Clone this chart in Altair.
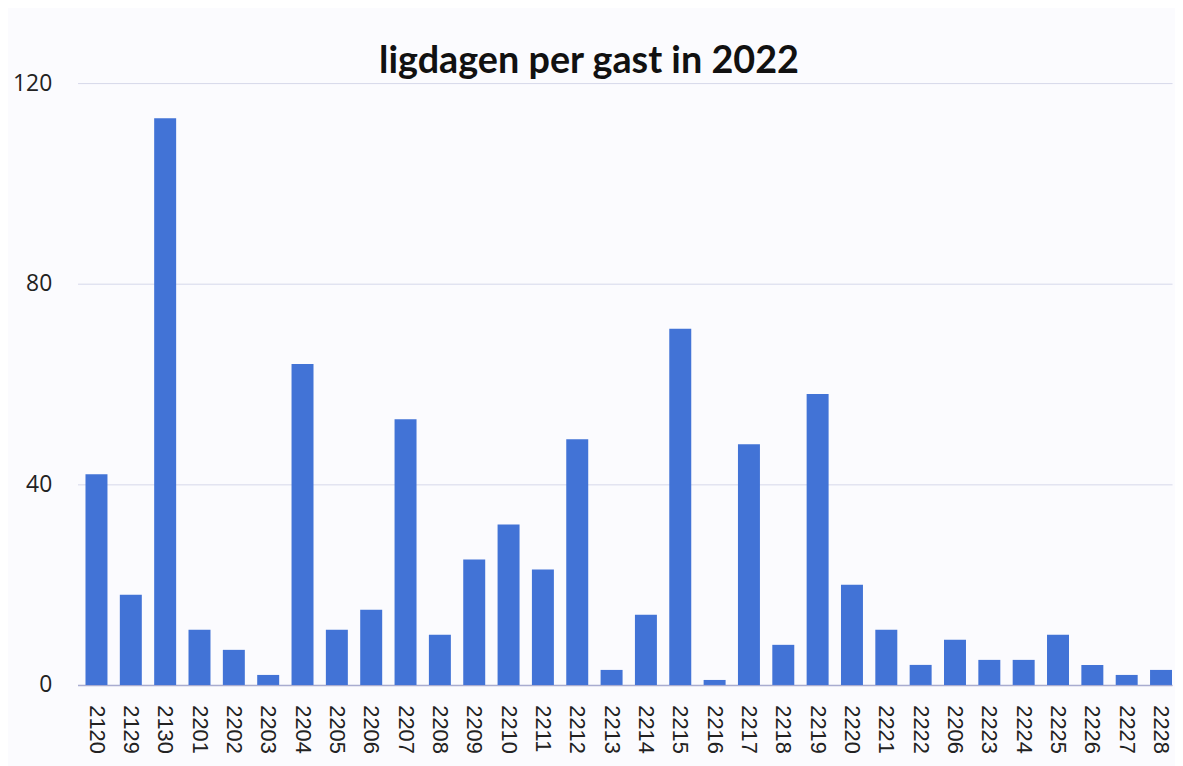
import altair as alt
import pandas as pd

gasten = ["2120", "2129", "2130", "2201", "2202", "2203", "2204", "2205", "2206", "2207",
          "2208", "2209", "2210", "2211", "2212", "2213", "2214", "2215", "2216", "2217",
          "2218", "2219", "2220", "2221", "2222", "2206", "2223", "2224", "2225", "2226",
          "2227", "2228"]
ligdagen = [42, 18, 113, 11, 7, 2, 64, 11, 15, 53,
            10, 25, 32, 23, 49, 3, 14, 71, 1, 48,
            8, 58, 20, 11, 4, 9, 5, 5, 10, 4,
            2, 3]
y_ticks = [0, 40, 80, 120]

df = pd.DataFrame({"idx": list(range(len(gasten))), "gast": gasten, "ligdagen": ligdagen})
label_array = "[" + ",".join("'" + g + "'" for g in gasten) + "]"

chart = alt.Chart(df).mark_bar(color="#4273d6").encode(
    x=alt.X("idx:O",
            scale=alt.Scale(paddingInner=0.36, paddingOuter=0.116, align=1),
            axis=alt.Axis(title=None, labelExpr=label_array + "[datum.value]",
                          labelAngle=90, labelAlign="left", labelBaseline="middle",
                          labelFont="Liberation Sans", labelFontSize=22, labelColor="#222222",
                          labelPadding=20, ticks=False, domainColor="#a9acd0", domainWidth=1.5,
                          grid=False)),
    y=alt.Y("ligdagen:Q",
            scale=alt.Scale(domain=[0, 120], nice=False),
            axis=alt.Axis(title=None, values=y_ticks, ticks=False, domain=False,
                          labelFont="Open Sans", labelFontSize=23, labelColor="#222222",
                          labelPadding=26, gridColor="#d6d8ea", gridWidth=1)),
    tooltip=["gast", "ligdagen"],
).properties(
    width=1102,
    height=606,
    autosize=alt.AutoSizeParams(type="none"),
    padding={"left": 70, "top": 73, "right": 3, "bottom": 80},
    title=alt.TitleParams("ligdagen per gast in 2022", font="Lato", fontSize=38,
                          fontWeight="bold", color="#111111", anchor="middle",
                          dx=-36, dy=48, offset=9, baseline="alphabetic"),
).configure(background="#fbfbfe").configure_view(stroke=None)

chart.save("out.html", embed_options={"renderer": "svg", "actions": False})
